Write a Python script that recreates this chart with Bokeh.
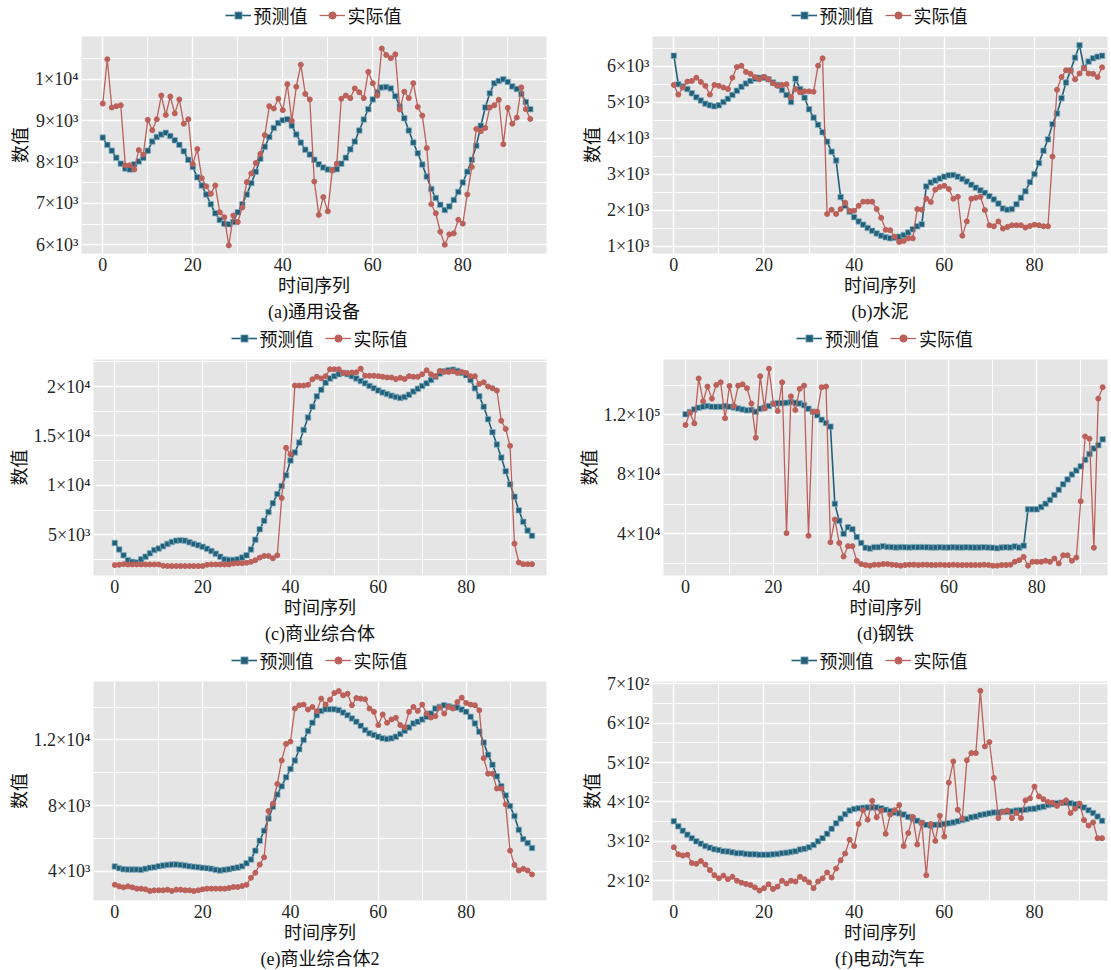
from bokeh.plotting import figure
from bokeh.models import FixedTicker, Range1d, Legend, LegendItem, Title
from bokeh.layouts import column, row
from bokeh.embed import file_html
from bokeh.resources import INLINE

# ---------------- data ----------------
x_ticks = [0, 20, 40, 60, 80]
x_minor = [10, 30, 50, 70, 90]
series_names = ["预测值", "实际值"]
captions = ["(a)通用设备", "(b)水泥", "(c)商业综合体", "(d)钢铁", "(e)商业综合体2", "(f)电动汽车"]

a_pred = [8590, 8416, 8275, 8102, 7960, 7843, 7820, 7945, 8015, 8100,
          8275, 8495, 8605, 8667, 8706, 8628, 8525, 8416, 8260, 8055,
          7882, 7630, 7430, 7215, 6980, 6760, 6600, 6510, 6495, 6550,
          6785, 6980, 7215, 7490, 7765, 8078, 8370, 8604, 8824, 8941,
          9012, 9035, 8878, 8667, 8470, 8298, 8180, 8055, 7945, 7867,
          7820, 7804, 7827, 7961, 8102, 8306, 8494, 8761, 9027, 9278,
          9514, 9686, 9804, 9812, 9780, 9592, 9341, 9059, 8761, 8471,
          8212, 7937, 7647, 7349, 7130, 6965, 6839, 6926, 7082, 7278,
          7506, 7765, 8055, 8392, 8878, 9318, 9663, 9906, 9961, 10000,
          9937, 9827, 9765, 9647, 9451, 9278]
a_act = [9412, 10486, 9318, 9349, 9373, 7922, 7922, 7820, 8290, 8180,
         9020, 8769, 9035, 9608, 9137, 9584, 9176, 9514, 8926, 9035,
         7950, 8314, 7608, 7412, 7231, 7435, 6784, 6667, 5984, 6706,
         6549, 6902, 7514, 7725, 7976, 8196, 8651, 9349, 9294, 9529,
         9255, 9882, 8996, 9820, 10353, 9647, 9514, 7530, 6722, 7153,
         6808, 7804, 7961, 9529, 9608, 9545, 9780, 9686, 9545, 10180,
         9906, 9608, 10745, 10588, 10510, 10604, 9271, 9702, 9545, 9906,
         9333, 9122, 8337, 6980, 6761, 6314, 6000, 6251, 6275, 6604,
         6510, 7216, 7882, 8800, 8745, 8824, 9318, 9373, 9506, 8431,
         9310, 8926, 9075, 9804, 9278, 9043]

b_pred = [6297, 5505, 5441, 5370, 5252, 5144, 5054, 4964, 4919, 4892,
          4919, 5009, 5099, 5207, 5324, 5432, 5523, 5595, 5658, 5685,
          5685, 5640, 5550, 5486, 5342, 5207, 5009, 5658, 5369, 5126,
          4811, 4577, 4378, 4171, 3910, 3631, 3387, 2369, 2126, 1964,
          1811, 1694, 1604, 1514, 1432, 1360, 1297, 1252, 1230, 1243,
          1270, 1315, 1387, 1477, 1559, 1613, 2667, 2775, 2829, 2883,
          2937, 2973, 2982, 2937, 2874, 2802, 2712, 2631, 2559, 2487,
          2396, 2306, 2189, 2054, 2018, 2036, 2171, 2351, 2532, 2784,
          3009, 3315, 3658, 3973, 4396, 4694, 5117, 5550, 5883, 6243,
          6586, 5955, 6135, 6225, 6270, 6297]
b_act = [5486, 5216, 5414, 5577, 5595, 5685, 5568, 5459, 5216, 5486,
         5459, 5414, 5369, 5685, 5982, 6018, 5847, 5793, 5703, 5640,
         5712, 5640, 5532, 5459, 5486, 5505, 5144, 5369, 5279, 5306,
         5306, 5297, 6018, 6225, 1901, 2018, 1901, 2036, 2216, 1991,
         1991, 2126, 2243, 2243, 2243, 2036, 1793, 1460, 1450, 1270,
         1125, 1153, 1225, 1225, 2036, 2018, 2324, 2234, 2577, 2649,
         2685, 2595, 2324, 2378, 1297, 1694, 2324, 2351, 2378, 2009,
         1586, 1559, 1694, 1495, 1541, 1586, 1586, 1586, 1523, 1568,
         1604, 1586, 1559, 1559, 3495, 5351, 5703, 5892, 5883, 5640,
         5802, 5955, 5802, 5793, 5703, 5973]

c_pred = [4174, 3515, 2921, 2427, 2262, 2196, 2526, 2790, 3120, 3449,
          3614, 3845, 4076, 4273, 4405, 4438, 4405, 4240, 4076, 3944,
          3779, 3581, 3350, 3086, 2790, 2526, 2460, 2460, 2526, 2691,
          2921, 3515, 4504, 5559, 6416, 7306, 8197, 9120, 9944, 11032,
          12516, 13340, 14329,
          15615, 16868, 17956, 19011, 19670, 20396, 20824, 21055, 21253, 21385,
          21253, 21055, 20824, 20560, 20330, 20066, 19835, 19604, 19407, 19242,
          19077, 18945, 18846, 18945, 19176, 19505, 19769, 20066, 20330, 20659,
          20989, 21319, 21550, 21649, 21714, 21583, 21385, 21154, 20659, 19835,
          19011, 17956, 16703, 15384, 14131, 12812, 11428, 10109, 8856, 7471,
          6317, 5427, 4899]
c_act = [1932, 1965, 2031, 1998, 1998, 1998, 1998, 1998, 1998, 1998,
         1998, 1866, 1833, 1833, 1833, 1833, 1833, 1833, 1833, 1833,
         1833, 1965, 1998, 1998, 1998, 1998, 1998, 2097, 2130, 2130,
         2163, 2262, 2427, 2691, 2856, 2856, 2625, 2921, 8725, 13802,
         13142, 20099, 20099,
         20099, 20180, 20740, 20989, 20824, 21055, 21747, 21747, 21747, 21385,
         21385, 21418, 21451, 21813, 21088, 21088, 21088, 21055, 20989, 20923,
         20923, 20758, 20890, 20758, 21055, 20989, 20989, 21253, 21649, 21253,
         21055, 21583, 21484, 21484, 21550, 21385, 21484, 21385, 21055, 21055,
         20264, 20429, 20000, 19835, 19604, 16538, 15714, 13999, 4109, 2196,
         2031, 2031, 2031]

d_pred = [120438, 121973, 123726, 124822, 125480, 125918, 125480, 125480, 125480, 125918,
          125480, 125042, 124384, 123726, 123069, 123288, 122192, 124165, 124822, 125918,
          127453, 127891, 127891, 128110, 128768, 128110, 127672, 126576, 124165, 122192,
          119781, 116712, 114520, 112109, 60158, 48760, 39992, 44376, 43061, 37800,
          33854, 30566, 30128, 31005, 31005, 31662, 31100, 31000, 30800, 31000,
          30900, 30800, 31000, 30900, 31000, 30900, 30800, 30800, 30900, 30800,
          30800, 30900, 30800, 30800, 30900, 30800, 30700, 30800, 30900, 30700,
          30600, 30300, 30700, 30900, 30800, 31500, 30700, 32000, 56432, 56432,
          56432, 57966, 60158, 62789, 66077, 69584, 73310, 76598, 79886, 82517,
          85366, 89750, 93696, 97422, 99614, 103560]
d_act = [113205, 121534, 114301, 144550, 129206, 139070, 130960, 140166, 141920, 117808,
         139509, 125918, 139728, 140605, 137974, 127672, 104656, 146085, 124384, 151126,
         127672, 122630, 141920, 40430, 132494, 123288, 137536, 139728, 38676, 122192,
         122192, 138632, 139070, 34293, 49636, 33854, 24648, 31662, 31662, 21798,
         19606, 18949, 18510, 19168, 19168, 19606, 19606, 19168, 18948, 18510,
         18948, 19168, 19168, 18948, 19168, 19168, 18948, 18948, 19168, 18948,
         18948, 19168, 18948, 18948, 18948, 18948, 18948, 18948, 19168, 18948,
         18510, 18510, 18948, 18948, 19168, 21140, 22237, 24429, 18510, 21140,
         21140, 21140, 21798, 21140, 23333, 20045, 25525, 25525, 21798, 23990,
         61912, 105533, 103998, 30566, 130960, 138632]

e_pred = [4283, 4182, 4122, 4101, 4101, 4101, 4081, 4142, 4202, 4242,
          4303, 4343, 4383, 4403, 4403, 4383, 4343, 4303, 4262, 4242,
          4202, 4182, 4142, 4081, 4041, 4081, 4122, 4182, 4222, 4303,
          4484, 4706, 5250, 5854, 6459, 7204, 7930, 8675, 9179, 9723,
          10227, 10751, 11436,
          12000, 12544, 13048, 13511, 13773, 13874, 13874, 13874, 13814, 13672,
          13511, 13310, 13108, 12866, 12605, 12403, 12302, 12202, 12101, 12060,
          12101, 12202, 12363, 12564, 12766, 13008, 13108, 13249, 13411, 13612,
          13914, 14015, 14116, 14055, 13975, 13975, 13854, 13713, 13411, 13008,
          12504, 11839, 11093, 10489, 9784, 9179, 8615, 7970, 7366, 6519,
          5955, 5713, 5411]
e_act = [3174, 3073, 3013, 3073, 3013, 2933, 2933, 2892, 2791, 2832,
         2832, 2832, 2872, 2791, 2872, 2872, 2832, 2832, 2791, 2832,
         2892, 2933, 2933, 2933, 2933, 2933, 2973, 3033, 3033, 3094,
         3174, 3597, 3900, 4403, 4847, 7668, 8111, 9320, 10751, 11758,
         11899, 13914, 14116,
         14156, 13853, 14015, 13753, 14519, 14156, 14458, 14861, 14982, 14720,
         14821, 14116, 14559, 14519, 14478, 13914, 13713, 12907, 13552, 13048,
         13249, 13350, 12907, 12766, 13713, 14015, 13773, 14156, 13612, 13370,
         13451, 13975, 13612, 14015, 13914, 14317, 14579, 14257, 14156, 14116,
         13814, 10892, 9945, 9945, 9038, 9038, 8071, 5250, 4383, 4041,
         4142, 4041, 3799]

f_pred = [351, 338, 327, 317, 308, 300, 294, 288, 284, 280,
          278, 275, 274, 272, 270, 270, 268, 267, 267, 266,
          266, 266, 267, 268, 270, 271, 273, 275, 279, 281,
          285, 291, 300, 308, 319, 332, 346, 358, 369, 378,
          382, 384, 385, 386, 386, 386, 384, 380, 377, 373,
          371, 368, 362, 358, 352, 347, 342, 340, 342, 342,
          344, 346, 348, 351, 354, 357, 361, 363, 367, 369,
          371, 373, 373, 375, 375, 376, 378, 379, 380, 382,
          383, 386, 388, 392, 394, 397, 398, 398, 397, 394,
          390, 386, 379, 372, 363, 352]
f_act = [285, 267, 264, 266, 245, 243, 250, 241, 227, 214,
         206, 213, 204, 210, 200, 195, 192, 189, 183, 175,
         181, 191, 179, 185, 200, 193, 200, 198, 210, 204,
         196, 181, 198, 206, 221, 208, 231, 252, 269, 304,
         288, 344, 379, 355, 403, 361, 378, 319, 368, 379,
         392, 288, 321, 362, 292, 347, 214, 344, 301, 365,
         312, 449, 503, 380, 358, 506, 524, 524, 682, 541,
         552, 461, 359, 375, 378, 359, 372, 359, 404, 409,
         439, 414, 407, 400, 398, 390, 398, 404, 372, 383,
         396, 354, 340, 348, 308, 308]

# y tick values and labels
a_yt = [6000, 7000, 8000, 9000, 10000]
a_ym = [6500, 7500, 8500, 9500, 10500]
a_yl = ["6×10³", "7×10³", "8×10³", "9×10³", "1×10⁴"]
b_yt = [1000, 2000, 3000, 4000, 5000, 6000]
b_ym = [1500, 2500, 3500, 4500, 5500, 6500]
b_yl = ["1×10³", "2×10³", "3×10³", "4×10³", "5×10³", "6×10³"]
c_yt = [5000, 10000, 15000, 20000]
c_ym = [2500, 7500, 12500, 17500, 22500]
c_yl = ["5×10³", "1×10⁴", "1.5×10⁴", "2×10⁴"]
d_yt = [40000, 80000, 120000]
d_ym = [20000, 60000, 100000, 140000]
d_yl = ["4×10⁴", "8×10⁴", "1.2×10⁵"]
e_yt = [4000, 8000, 12000]
e_ym = [6000, 10000, 14000]
e_yl = ["4×10³", "8×10³", "1.2×10⁴"]
f_yt = [200, 300, 400, 500, 600, 700]
f_ym = [250, 350, 450, 550, 650]
f_yl = ["2×10²", "3×10²", "4×10²", "5×10²", "6×10²", "7×10²"]

# ---------------- style ----------------
FONT = "Liberation Serif, Noto Sans CJK SC"
BG = "#E5E5E5"
PRED = "#22607A"
ACT = "#BC605A"
TXT = "#262626"
LEG_W = 184


def styled(p, pred, act):
    xp = list(range(len(pred)))
    xa = list(range(len(act)))
    l1 = p.line(xp, pred, line_color=PRED, line_width=1.6)
    s1 = p.scatter(xp, pred, marker="square", size=5.5, fill_color=PRED,
                   line_color="#86B3C4", line_width=0.7)
    l2 = p.line(xa, act, line_color=ACT, line_width=1.3)
    s2 = p.scatter(xa, act, marker="circle", size=5, fill_color=ACT, line_color=ACT)
    return l1, s1, l2, s2


def legend_fig(width, bl, br, pred, act):
    # the series are drawn off-screen here; only the legend is visible
    q = figure(width=width, height=28, x_range=Range1d(-1000, -999), y_range=Range1d(-1000, -999),
               output_backend="svg", toolbar_location=None, title=None,
               x_axis_type=None, y_axis_type=None,
               min_border_left=bl, min_border_right=br, min_border_top=0, min_border_bottom=0)
    q.grid.visible = False
    q.outline_line_color = None
    q.background_fill_color = "white"
    q.border_fill_color = "white"
    l1, s1, l2, s2 = styled(q, pred, act)
    fw = width - bl - br
    leg = Legend(items=[LegendItem(label=series_names[0], renderers=[l1, s1]),
                        LegendItem(label=series_names[1], renderers=[l2, s2])],
                 orientation="horizontal", location=((fw - LEG_W) / 2 + 3, 0),
                 label_text_font=FONT, label_text_font_size="18px", label_text_color="#111111",
                 glyph_width=26, glyph_height=18, label_standoff=3, spacing=11,
                 padding=0, margin=0, background_fill_alpha=0, border_line_alpha=0,
                 label_height=20)
    q.add_layout(leg)
    return q


def panel(pred, act, caption, xr, yr, yt, ym, yl, width, height, bl, br, bt, bb):
    p = figure(width=width, height=height, x_range=Range1d(*xr), y_range=Range1d(*yr),
               output_backend="svg", toolbar_location=None, title=None,
               min_border_left=bl, min_border_right=br, min_border_top=bt, min_border_bottom=bb)
    p.background_fill_color = BG
    p.border_fill_color = "white"
    p.outline_line_color = None

    xt = FixedTicker(ticks=x_ticks, minor_ticks=x_minor)
    p.xaxis.ticker = xt
    p.xgrid.ticker = xt
    ytk = FixedTicker(ticks=yt, minor_ticks=ym)
    p.yaxis.ticker = ytk
    p.ygrid.ticker = ytk
    p.yaxis.major_label_overrides = {int(v): s for v, s in zip(yt, yl)}

    for g in (p.xgrid, p.ygrid):
        g.grid_line_color = "white"
        g.grid_line_width = 1.4
        g.minor_grid_line_color = "white"
        g.minor_grid_line_width = 0.9

    for ax in (p.xaxis, p.yaxis):
        ax.axis_line_color = None
        ax.major_tick_line_color = None
        ax.minor_tick_line_color = None
        ax.major_tick_out = 0
        ax.major_tick_in = 0
        ax.minor_tick_out = 0
        ax.minor_tick_in = 0
        ax.major_label_text_font = FONT
        ax.major_label_text_font_size = "18px"
        ax.major_label_text_color = TXT
        ax.axis_label_text_font = FONT
        ax.axis_label_text_font_size = "18px"
        ax.axis_label_text_font_style = "normal"
        ax.axis_label_text_color = "#111111"
    p.xaxis.axis_label = "时间序列"
    p.yaxis.axis_label = "数值"
    p.xaxis.major_label_standoff = 4
    p.xaxis.axis_label_standoff = 2
    p.yaxis.major_label_standoff = 3
    p.yaxis.axis_label_standoff = 1

    styled(p, pred, act)

    t = Title(text=caption, align="center", text_font=FONT, text_font_size="18px",
              text_font_style="normal", text_color="#111111", standoff=3)
    p.add_layout(t, "below")
    return p


LW, RW = 568, 542

pa = panel(a_pred, a_act, captions[0], (-4.73, 98.6), (5788, 11035), a_yt, a_ym, a_yl,
           LW, 295, 81, 22, 8, 64)
pb = panel(b_pred, b_act, captions[1], (-4.73, 96.2), (803, 6830), b_yt, b_ym, b_yl,
           RW, 295, 84, 3, 8, 64)
pc = panel(c_pred, c_act, captions[2], (-4.85, 98.3), (880, 22740), c_yt, c_ym, c_yl,
           LW, 294, 93, 22, 8, 65)
pd_ = panel(d_pred, d_act, captions[3], (-5.02, 96.1), (11908, 157300), d_yt, d_ym, d_yl,
            RW, 294, 95, 3, 8, 65)
pe = panel(e_pred, e_act, captions[4], (-4.85, 98.3), (2211, 15565), e_yt, e_ym, e_yl,
           LW, 297, 93, 22, 8, 68)
pf = panel(f_pred, f_act, captions[5], (-4.73, 96.2), (149.8, 705.8), f_yt, f_ym, f_yl,
           RW, 297, 84, 3, 8, 68)

layout = column(
    row(legend_fig(LW, 81, 22, a_pred, a_act), legend_fig(RW, 84, 3, b_pred, b_act)), row(pa, pb),
    row(legend_fig(LW, 93, 22, c_pred, c_act), legend_fig(RW, 95, 3, d_pred, d_act)), row(pc, pd_),
    row(legend_fig(LW, 93, 22, e_pred, e_act), legend_fig(RW, 84, 3, f_pred, f_act)), row(pe, pf),
)

open("out.html", "w").write(file_html(layout, INLINE))
